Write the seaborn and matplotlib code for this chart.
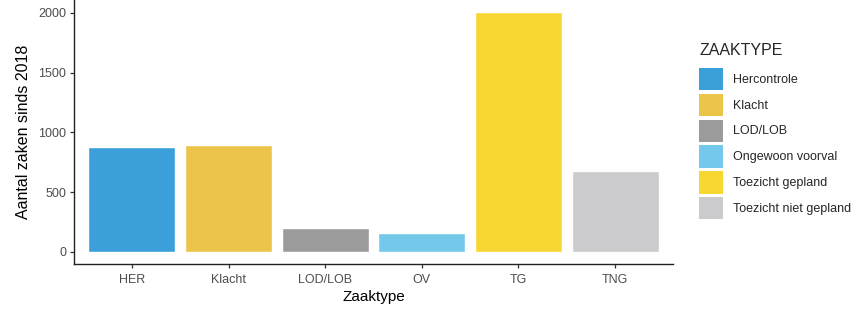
import matplotlib
matplotlib.use("Agg")
import matplotlib.pyplot as plt
from matplotlib.patches import Patch
import seaborn as sns
import pandas as pd

codes = ["HER", "Klacht", "LOD/LOB", "OV", "TG", "TNG"]
names = ["Hercontrole", "Klacht", "LOD/LOB", "Ongewoon voorval",
         "Toezicht gepland", "Toezicht niet gepland"]
counts = [881, 892, 200, 158, 2008, 675]
colors = ["#3BA0D9", "#EBC449", "#9B9B9B", "#74C9EB", "#F8D733", "#CBCACD"]

sns.set_style("white")
plt.rcParams["font.family"] = ["Liberation Sans", "DejaVu Sans"]

df = pd.DataFrame({"Zaaktype": codes, "Naam": names, "Aantal": counts})

fig = plt.figure(figsize=(8.61, 3.15), dpi=100)
ax = fig.add_axes([74/861, 1-264/315, (673-74)/861, 264/315])

sns.barplot(data=df, x="Zaaktype", y="Aantal", hue="Naam", hue_order=names,
            palette=colors, dodge=False, width=0.9, legend=False, ax=ax,
            saturation=1)

ax.set_xlim(-0.6, 5.6)
ymax = max(counts)
ax.set_ylim(-0.05*ymax, 1.05*ymax)
ax.set_yticks([0, 500, 1000, 1500, 2000])

for s in ["top", "right"]:
    ax.spines[s].set_visible(False)
for s in ["left", "bottom"]:
    ax.spines[s].set_color("#222222")
    ax.spines[s].set_linewidth(1.0)

ax.tick_params(axis="both", which="major", length=3, width=0.9,
               color="#333333", labelcolor="#4D4D4D", labelsize=9,
               left=True, bottom=True, pad=2.5)
ax.tick_params(axis="x", pad=4)

ax.set_xlabel("Zaaktype", fontsize=11, color="black", labelpad=3)
ax.set_ylabel("Aantal zaken sinds 2018", fontsize=11.5, color="black", labelpad=5)

handles = [Patch(facecolor=c, edgecolor="none") for c in colors]
leg = fig.legend(handles, names, title="ZAAKTYPE", loc="upper left",
                 bbox_to_anchor=(699/861, 1-43/315), frameon=False,
                 fontsize=9, title_fontsize=11.5, handlelength=1.95,
                 handleheight=2.35, labelspacing=0.3, handletextpad=0.8,
                 borderpad=0, borderaxespad=0, alignment="left")
leg._legend_box.sep = 7

fig.savefig("out.png", dpi=100)
